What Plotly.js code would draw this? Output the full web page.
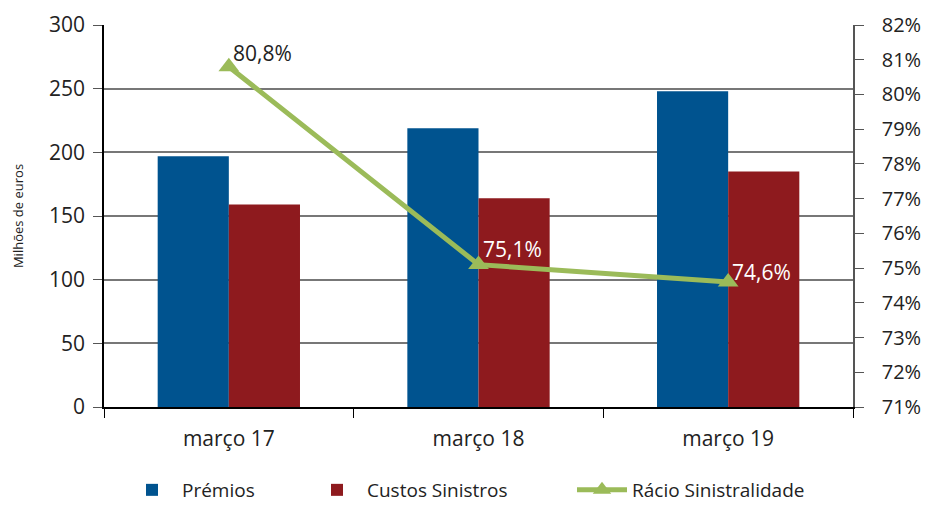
<!DOCTYPE html>
<html>
<head>
<meta charset="utf-8">
<script src="https://cdn.plot.ly/plotly-3.0.1.min.js"></script>
<style>
  body { margin: 0; background: #fff; }
  #grafico { width: 926px; height: 509px; }
</style>
</head>
<body>
<div id="grafico"></div>
<script>
// Dados do gráfico
const periodos = ['março 17', 'março 18', 'março 19'];
const premios = [197, 219, 248];
const custosSinistros = [159, 164, 185];
const racioSinistralidade = [80.8, 75.1, 74.6];

const fonte = 'Open Sans, sans-serif';

const dados = [
    {
        x: periodos,
        y: premios,
        name: 'Prémios',
        type: 'bar',
        legend: 'legend',
        marker: { color: '#00538f' }
    },
    {
        x: periodos,
        y: custosSinistros,
        name: 'Custos Sinistros',
        type: 'bar',
        legend: 'legend2',
        marker: { color: '#8e1a1e' }
    },
    {
        x: periodos,
        y: racioSinistralidade,
        name: 'Rácio Sinistralidade',
        type: 'scatter',
        mode: 'lines+markers',
        yaxis: 'y2',
        legend: 'legend3',
        line: { color: '#9bbb59', width: 5 },
        marker: { symbol: 'triangle-up', size: 18, color: '#9bbb59' }
    }
];

// etiquetas do rácio (a primeira a preto, as outras a branco sobre as barras)
const coresEtiquetas = ['#222222', '#ffffff', '#ffffff'];
const desvioY = [14, 16, 10];
const etiquetas = periodos.map((p, i) => ({
    x: p,
    y: racioSinistralidade[i],
    xref: 'x',
    yref: 'y2',
    text: racioSinistralidade[i].toFixed(1).replace('.', ',') + '%',
    showarrow: false,
    xanchor: 'left',
    yanchor: 'middle',
    xshift: 2,
    yshift: desvioY[i],
    font: { family: fonte, size: 21, color: coresEtiquetas[i] }
}));

// uma legenda por série, para as espaçar como no original
function legenda(xPx) {
    return {
        orientation: 'h',
        x: xPx / 926,
        xref: 'container',
        xanchor: 'left',
        y: 0,
        yref: 'container',
        yanchor: 'bottom',
        font: { family: fonte, size: 19, color: '#222' },
        itemwidth: 50
    };
}

const layout = {
    width: 926,
    height: 509,
    margin: { l: 104, r: 73, t: 25, b: 102, autoexpand: false },
    separators: ',.',
    barmode: 'group',
    bargap: 0.43,
    bargroupgap: 0,
    showlegend: true,
    legend: legenda(122),
    legend2: legenda(307),
    legend3: legenda(572),
    annotations: etiquetas,
    xaxis: {
        type: 'category',
        tickson: 'boundaries',
        ticks: 'outside',
        ticklen: 9,
        tickcolor: '#000',
        ticklabelstandoff: 12,
        showline: true,
        linecolor: '#000',
        linewidth: 1.5,
        tickfont: { family: fonte, size: 21, color: '#222' }
    },
    yaxis: {
        range: [0, 300],
        dtick: 50,
        ticks: 'outside',
        ticklen: 9,
        tickcolor: '#555',
        ticklabelstandoff: 4,
        showline: true,
        linecolor: '#000',
        linewidth: 1.5,
        showgrid: true,
        gridcolor: '#777',
        gridwidth: 1.5,
        zeroline: false,
        tickfont: { family: fonte, size: 21, color: '#222' },
        title: {
            text: 'Milhões de euros',
            font: { family: fonte, size: 13, color: '#222' },
            standoff: 22
        }
    },
    yaxis2: {
        overlaying: 'y',
        side: 'right',
        range: [71, 82],
        dtick: 1,
        ticksuffix: '%',
        ticks: 'outside',
        ticklen: 9,
        tickcolor: '#555',
        ticklabelstandoff: 14,
        showline: true,
        linecolor: '#555',
        linewidth: 1.5,
        showgrid: false,
        zeroline: false,
        tickfont: { family: fonte, size: 20, color: '#222' }
    },
    plot_bgcolor: '#ffffff',
    paper_bgcolor: '#ffffff'
};

Plotly.newPlot('grafico', dados, layout, { displayModeBar: false });
</script>
</body>
</html>
